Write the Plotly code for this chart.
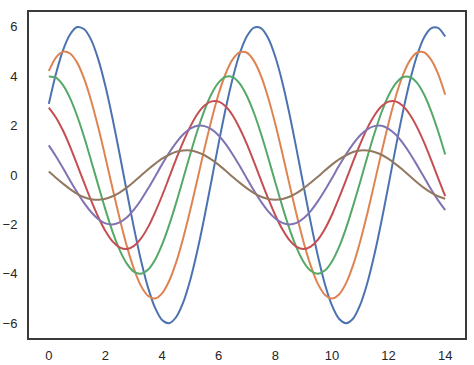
import plotly.graph_objects as go

x_vals = [i * 0.25 for i in range(57)]

series_1 = [2.88, 4.09, 5.05, 5.69, 5.99, 5.90, 5.46, 4.67, 3.59, 2.29, 0.85, -0.65, -2.10, -3.43, -4.54,
            -5.37, -5.87, -6.00, -5.75, -5.15, -4.23, -3.05, -1.68, -0.20, 1.29, 2.70, 3.94, 4.94, 5.63,
            5.97, 5.94, 5.54, 4.79, 3.75, 2.47, 1.04, -0.45, -1.92, -3.26, -4.41, -5.28, -5.82, -6.00,
            -5.81, -5.25, -4.37, -3.22, -1.87, -0.40, 1.10, 2.52, 3.79, 4.82, 5.56, 5.94, 5.96, 5.61]
series_2 = [4.21, 4.75, 4.99, 4.92, 4.55, 3.89, 2.99, 1.91, 0.71, -0.54, -1.75, -2.86, -3.78, -4.48, -4.89,
            -5.00, -4.79, -4.29, -3.53, -2.54, -1.40, -0.17, 1.08, 2.25, 3.29, 4.12, 4.69, 4.97, 4.95,
            4.61, 3.99, 3.12, 2.06, 0.87, -0.38, -1.60, -2.72, -3.67, -4.40, -4.85, -5.00, -4.84, -4.38,
            -3.64, -2.68, -1.56, -0.33, 0.91, 2.10, 3.16, 4.02, 4.63, 4.95, 4.97, 4.67, 4.09, 3.25]
series_3 = [3.99, 3.94, 3.64, 3.11, 2.39, 1.53, 0.56, -0.43, -1.40, -2.29, -3.03, -3.58, -3.91, -4.00, -3.84,
            -3.44, -2.82, -2.03, -1.12, -0.13, 0.86, 1.80, 2.63, 3.29, 3.75, 3.98, 3.96, 3.69, 3.19,
            2.50, 1.65, 0.70, -0.30, -1.28, -2.18, -2.94, -3.52, -3.88, -4.00, -3.87, -3.50, -2.92, -2.15,
            -1.24, -0.27, 0.73, 1.68, 2.53, 3.22, 3.70, 3.96, 3.97, 3.74, 3.27, 2.60, 1.77, 0.83]
series_4 = [2.73, 2.33, 1.80, 1.15, 0.42, -0.32, -1.05, -1.71, -2.27, -2.69, -2.93, -3.00, -2.88, -2.58, -2.12,
            -1.52, -0.84, -0.10, 0.65, 1.35, 1.97, 2.47, 2.81, 2.98, 2.97, 2.77, 2.40, 1.87, 1.24,
            0.52, -0.23, -0.96, -1.63, -2.20, -2.64, -2.91, -3.00, -2.90, -2.63, -2.19, -1.61, -0.93, -0.20,
            0.55, 1.26, 1.90, 2.41, 2.78, 2.97, 2.98, 2.80, 2.45, 1.95, 1.33, 0.62, -0.13, -0.86]
series_5 = [1.20, 0.76, 0.28, -0.22, -0.70, -1.14, -1.51, -1.79, -1.96, -2.00, -1.92, -1.72, -1.41, -1.02, -0.56,
            -0.07, 0.43, 0.90, 1.31, 1.65, 1.88, 1.99, 1.98, 1.85, 1.60, 1.25, 0.82, 0.35, -0.15,
            -0.64, -1.09, -1.47, -1.76, -1.94, -2.00, -1.94, -1.75, -1.46, -1.07, -0.62, -0.13, 0.37, 0.84,
            1.26, 1.61, 1.85, 1.98, 1.99, 1.87, 1.64, 1.30, 0.88, 0.41, -0.08, -0.58, -1.03, -1.42]
series_6 = [0.14, -0.11, -0.35, -0.57, -0.76, -0.90, -0.98, -1.00, -0.96, -0.86, -0.71, -0.51, -0.28, -0.03,
            0.22, 0.45, 0.66, 0.82, 0.94, 0.99, 0.99, 0.92, 0.80, 0.62, 0.41, 0.17, -0.08, -0.32, -0.54,
            -0.73, -0.88, -0.97, -1.00, -0.97, -0.88, -0.73, -0.54, -0.31, -0.07, 0.18, 0.42, 0.63, 0.80,
            0.93, 0.99, 0.99, 0.93, 0.82, 0.65, 0.44, 0.21, -0.04, -0.29, -0.52, -0.71, -0.86, -0.96]

x_ticks = [0, 2, 4, 6, 8, 10, 12, 14]
y_ticks = [-6, -4, -2, 0, 2, 4, 6]
y_tick_text = ["\u22126", "\u22124", "\u22122", "0", "2", "4", "6"]

colors = ["#4C72B0", "#DD8452", "#55A868", "#C44E52", "#8172B3", "#937860"]
all_series = [series_1, series_2, series_3, series_4, series_5, series_6]

fig = go.Figure()
for s, c in zip(all_series, colors):
    fig.add_trace(go.Scatter(x=x_vals, y=s, mode="lines",
                             line=dict(color=c, width=2, shape="spline", smoothing=0.8),
                             showlegend=False, hoverinfo="skip"))

axis_common = dict(showgrid=False, zeroline=False, showline=True, mirror=True,
                   linecolor="#3a3a3a", linewidth=2, ticks="outside", automargin=False,
                   tickcolor="rgba(0,0,0,0)",
                   tickfont=dict(family="Liberation Sans, Arial, sans-serif", size=13, color="#262626"))

fig.update_layout(
    width=474, height=365,
    margin=dict(l=29, r=9, t=12, b=27),
    paper_bgcolor="white", plot_bgcolor="white",
    xaxis=dict(range=[-0.7, 14.7], tickvals=x_ticks, ticklen=4, **axis_common),
    yaxis=dict(range=[-6.6, 6.6], tickvals=y_ticks, ticktext=y_tick_text, ticklen=7, **axis_common),
)

fig.write_html("out.html")
